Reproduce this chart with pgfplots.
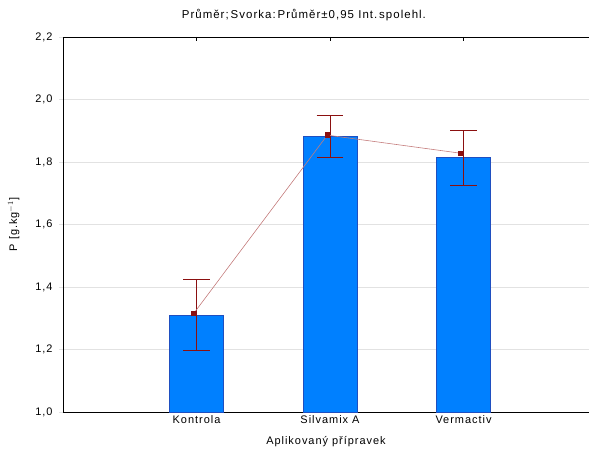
\documentclass[border=0pt]{standalone}
\usepackage{pgfplots}
\pgfplotsset{compat=1.18}
\usepackage{fontspec}
\setmainfont[LetterSpace=9]{Liberation Sans}

\definecolor{barfill}{HTML}{0080FF}
\definecolor{baredge}{HTML}{1F4FC0}
\definecolor{errred}{HTML}{8B1010}
\definecolor{meanline}{HTML}{C47C7C}
\definecolor{gridgray}{HTML}{E2E2E2}

\begin{document}
\begin{tikzpicture}
\begin{axis}[
  scale only axis,
  width=526bp, height=375bp,
  xmin=0, xmax=3.94,
  ymin=1.0, ymax=2.2,
  axis x line=bottom, axis y line=left,
  axis line style={-, line width=0.8pt},
  xtick={1,2,3},
  xticklabels={Kontrola, Silvamix A, Vermactiv},
  x tick style={black, line width=0.6pt},
  major tick length=4bp,
  xtick align=inside,
  ytick={1.0,1.2,...,2.2},
  ytick align=outside,
  y tick style={gridgray, line width=0.8pt},
  ymajorgrids,
  grid style={gridgray, line width=0.8pt},
  /pgf/number format/.cd, use comma, fixed, fixed zerofill, precision=1,
  /pgfplots/.cd,
  /pgf/number format/assume math mode=true,
  tick label style={font=\fontsize{11}{13}\selectfont},
  yticklabel style={xshift=-3bp},
  label style={font=\fontsize{11}{13}\selectfont},
  xlabel={Aplikovaný přípravek},
  ylabel={P [g.kg$^{-1}$]},
  xlabel style={yshift=-6bp},
  ylabel style={yshift=9bp},
  title={Průměr;\,Svorka:\,Průměr±0,95 Int.\,spolehl.},
  title style={font=\fontsize{11.5}{13}\selectfont, at={(0.458,1)}, yshift=7bp},
  clip=false,
]
% group means as bars
\addplot[ybar, bar width=0.404, fill=barfill, draw=baredge, line width=0.7pt]
  coordinates {(1,1.310) (2,1.881) (3,1.814)};
% 95 % confidence intervals
\addplot[draw=none, mark=none,
  error bars/.cd, y dir=both, y explicit,
  error bar style={errred, line width=0.8pt},
  error mark options={rotate=90, errred, mark size=13.3bp, line width=0.8pt}]
  coordinates {
    (1,1.3105) +- (0,0.1145)
    (2,1.8815) +- (0,0.0665)
    (3,1.8135) +- (0,0.0875)
  };
% mean markers joined by a line
\addplot[meanline, line width=0.6pt, mark=square*,
  mark options={errred, fill=errred, mark size=2.4bp}]
  coordinates {(0.98,1.316) (1.98,1.886) (2.98,1.828)};
% upper frame line with short inward ticks at the categories
\draw[line width=0.8pt] (rel axis cs:0,1) -- (rel axis cs:1,1);
\draw[line width=0.6pt] (axis cs:1,2.2) -- (axis cs:1,2.1872);
\draw[line width=0.6pt] (axis cs:2,2.2) -- (axis cs:2,2.1872);
\draw[line width=0.6pt] (axis cs:3,2.2) -- (axis cs:3,2.1872);
\end{axis}
\pgfresetboundingbox
\useasboundingbox (-63bp,-38bp) rectangle (526bp,412bp);
\end{tikzpicture}
\end{document}
